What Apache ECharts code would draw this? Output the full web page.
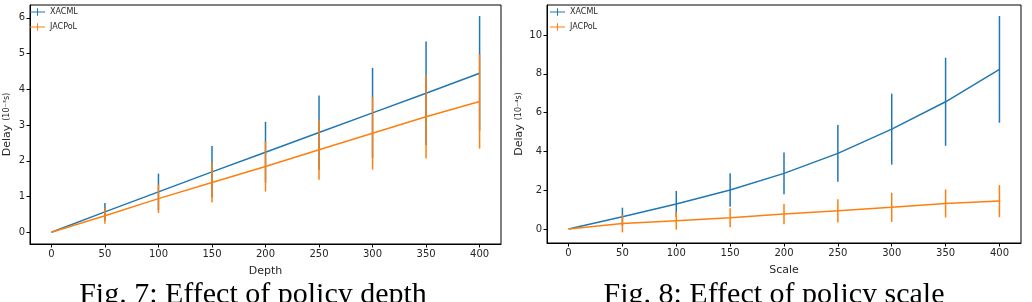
<!DOCTYPE html>
<html>
<head>
<meta charset="utf-8">
<script src="https://cdn.jsdelivr.net/npm/echarts@6/dist/echarts.min.js"></script>
<style>
html, body { margin: 0; padding: 0; background: #fff; }
#chart { width: 1032px; height: 302px; }
</style>
</head>
<body>
<div id="chart"></div>
<script>
// x positions, same for both plots
var steps = [0, 50, 100, 150, 200, 250, 300, 350, 400];

// Fig. 7 - policy depth (10^-3 s)
var depthXacml = [0, 0.57, 1.13, 1.69, 2.24, 2.79, 3.34, 3.89, 4.45];
var depthXacmlErr = [0, 0.25, 0.51, 0.72, 0.85, 1.04, 1.26, 1.45, 1.6];
var depthJacpol = [0, 0.46, 0.94, 1.39, 1.84, 2.31, 2.77, 3.23, 3.66];
var depthJacpolErr = [0, 0.22, 0.4, 0.56, 0.7, 0.84, 1.02, 1.17, 1.32];
var depthTicks = [0, 1, 2, 3, 4, 5, 6];

// Fig. 8 - policy scale (10^-4 s)
var scaleXacml = [0, 0.63, 1.29, 2.01, 2.87, 3.9, 5.15, 6.56, 8.23];
var scaleXacmlErr = [0, 0.47, 0.67, 0.86, 1.08, 1.46, 1.83, 2.27, 2.75];
var scaleJacpol = [0, 0.28, 0.43, 0.58, 0.77, 0.94, 1.12, 1.32, 1.44];
var scaleJacpolErr = [0, 0.45, 0.46, 0.49, 0.52, 0.6, 0.75, 0.72, 0.83];
var scaleTicks = [0, 2, 4, 6, 8, 10];

var BLUE = '#1f77b4';
var ORANGE = '#ff7f0e';
var legendIcon = 'path://M0,4.3h20v1.4h-20zM9.3,0h1.4v10h-1.4z';

function pairs(ys) {
  return steps.map(function (x, i) { return [x, ys[i]]; });
}
function spans(ys, errs) {
  return steps.map(function (x, i) { return [x, ys[i] - errs[i], ys[i] + errs[i]]; });
}
function errorBar(params, api) {
  var x = api.value(0);
  var lo = api.coord([x, api.value(1)]);
  var hi = api.coord([x, api.value(2)]);
  return {
    type: 'line',
    shape: { x1: lo[0], y1: lo[1], x2: hi[0], y2: hi[1] },
    style: { stroke: api.visual('color'), lineWidth: 1.5 }
  };
}

function xAx(idx, name) {
  return {
    type: 'value', gridIndex: idx, min: -20, max: 420,
    name: name, nameLocation: 'middle', nameGap: 22,
    nameTextStyle: { fontSize: 11, color: '#262626', fontFamily: 'DejaVu Sans' },
    axisLine: { onZero: false, lineStyle: { color: '#000', width: 1 } },
    axisTick: { customValues: steps, length: 3.5, lineStyle: { color: '#000' } },
    axisLabel: { customValues: steps, margin: 5, fontSize: 10, color: '#262626', fontFamily: 'DejaVu Sans' },
    splitLine: { show: false }
  };
}
function yAx(idx, min, max, ticks, gap, exp) {
  return {
    type: 'value', gridIndex: idx, min: min, max: max,
    name: '{a|Delay} {b|(10' + exp + 's)}', nameLocation: 'middle', nameGap: gap,
    nameTextStyle: {
      color: '#262626', fontFamily: 'DejaVu Sans',
      rich: { a: { fontSize: 11, fontFamily: 'DejaVu Sans' }, b: { fontSize: 8, fontFamily: 'DejaVu Sans' } }
    },
    axisLine: { onZero: false, lineStyle: { color: '#000', width: 1 } },
    axisTick: { customValues: ticks, length: 3.5, lineStyle: { color: '#000' } },
    axisLabel: { customValues: ticks, margin: 5, fontSize: 10, color: '#262626', fontFamily: 'DejaVu Sans' },
    splitLine: { show: false }
  };
}
function lineSeries(name, idx, ys, color, z) {
  return {
    type: 'line', name: name, xAxisIndex: idx, yAxisIndex: idx, data: pairs(ys),
    showSymbol: false, symbol: 'none', color: color, z: z,
    lineStyle: { width: 1.5, color: color }, animation: false
  };
}
function barSeries(name, idx, ys, errs, color, z) {
  return {
    type: 'custom', name: name, xAxisIndex: idx, yAxisIndex: idx, data: spans(ys, errs),
    renderItem: errorBar, encode: { x: 0, y: [1, 2] }, itemStyle: { color: color }, z: z,
    animation: false
  };
}
function legend(left) {
  return {
    left: left, top: 8, orient: 'vertical', itemGap: 7, itemWidth: 15, itemHeight: 8, padding: 0,
    textStyle: { fontSize: 8, color: '#262626', fontFamily: 'DejaVu Sans' },
    data: [
      { name: 'XACML', icon: legendIcon, itemStyle: { color: BLUE } },
      { name: 'JACPoL', icon: legendIcon, itemStyle: { color: ORANGE } }
    ]
  };
}

var chart = echarts.init(document.getElementById('chart'));
chart.setOption({
  animation: false,
  grid: [
    { left: 27, top: 5, width: 474, height: 239, show: true, borderColor: '#000', borderWidth: 1, backgroundColor: '#fff' },
    { left: 547, top: 5, width: 474, height: 238, show: true, borderColor: '#000', borderWidth: 1, backgroundColor: '#fff' }
  ],
  legend: [legend(30), legend(550)],
  xAxis: [xAx(0, 'Depth'), xAx(1, 'Scale')],
  yAxis: [
    yAx(0, -0.33, 6.36, depthTicks, 17, '\u207b\u00b3'),
    yAx(1, -0.72, 11.55, scaleTicks, 20, '\u207b\u2074')
  ],
  series: [
    lineSeries('XACML', 0, depthXacml, BLUE, 2),
    barSeries('XACML', 0, depthXacml, depthXacmlErr, BLUE, 2),
    lineSeries('JACPoL', 0, depthJacpol, ORANGE, 3),
    barSeries('JACPoL', 0, depthJacpol, depthJacpolErr, ORANGE, 3),
    lineSeries('XACML', 1, scaleXacml, BLUE, 2),
    barSeries('XACML', 1, scaleXacml, scaleXacmlErr, BLUE, 2),
    lineSeries('JACPoL', 1, scaleJacpol, ORANGE, 3),
    barSeries('JACPoL', 1, scaleJacpol, scaleJacpolErr, ORANGE, 3)
  ],
  graphic: [
    { type: 'text', x: 253, y: 280, style: { text: 'Fig. 7: Effect of policy depth', font: '30px "Liberation Serif"', fill: '#000', textAlign: 'center', textVerticalAlign: 'top' } },
    { type: 'text', x: 774, y: 280, style: { text: 'Fig. 8: Effect of policy scale', font: '30px "Liberation Serif"', fill: '#000', textAlign: 'center', textVerticalAlign: 'top' } }
  ]
});
</script>
</body>
</html>
